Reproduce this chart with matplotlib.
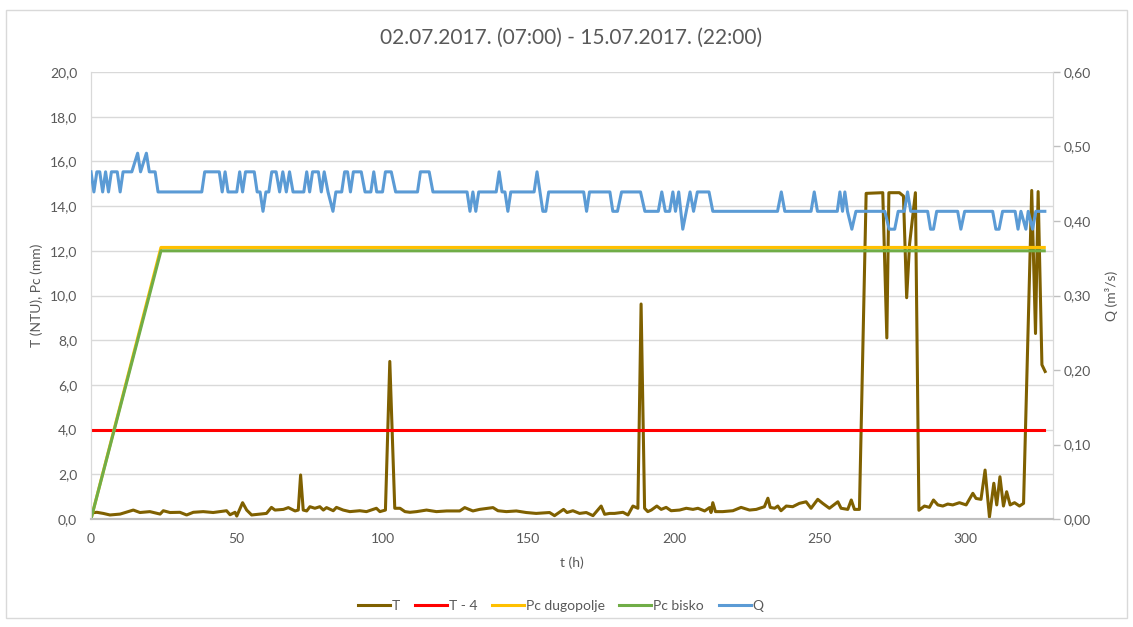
import matplotlib
matplotlib.use("Agg")
import matplotlib.pyplot as plt
from matplotlib.ticker import FuncFormatter, MultipleLocator
from matplotlib.patches import Rectangle

plt.rcParams['font.family'] = ['Lato', 'DejaVu Sans']

title = "02.07.2017. (07:00) - 15.07.2017. (22:00)"

# turbidity T (NTU), hours from start
t_hours = [0, 2, 4.2, 6.5, 10, 14.5, 16.8, 20.2, 23.7, 24.8, 27.1, 30.5, 32.8, 35.1, 38.5,
           41.9, 46.5, 47.7, 49.4, 50, 52, 53.4, 55.1, 57.9, 60.2, 61.9, 63.1, 66, 67.7,
           70, 71.1, 71.9, 72.8, 74, 75.1, 76.8, 78.5, 79.7, 80.8, 83.1, 84.2, 86.5, 88.8,
           92.2, 94.5, 97.9, 99.1, 101, 102.5, 104.2, 106, 107.7, 109.4, 111.7, 115.1,
           118.5, 122, 126.5, 128.2, 131, 133.3, 137.9, 139.6, 142.5, 145.9, 149.3, 152.7,
           157.3, 159, 162.1, 163.3, 165.3, 167.6, 169.9, 172.2, 175, 176.2, 177.9, 179.6,
           182.5, 184.2, 185.9, 187.6, 188.7, 189.9, 191, 192.2, 194.1, 195.6, 197.3, 199,
           201.9, 204.2, 206.5, 208.2, 210.5, 212.2, 212.7, 213.3, 214.2, 216.7, 220.2,
           223, 225.9, 228.2, 231, 232.2, 233, 234.5, 235.6, 236.7, 238.5, 240.7, 243,
           245.3, 247, 249.3, 251, 253.3, 256.2, 257.3, 259.6, 260.8, 261.9, 263.6, 265.9,
           271.6, 273, 273.7, 277.3, 278.7, 279.8, 280.8, 282.8, 284, 285.9, 287.6, 289,
           290.5, 292.2, 293.9, 295.6, 297.9, 300.2, 302.5, 303.6, 305.3, 306.7, 308.2,
           309.7, 310.7, 311.8, 313, 314.1, 315.3, 316.8, 318.5, 319.9, 322.7, 324, 324.9,
           326.2, 327.3]
t_ntu = [0.27, 0.30, 0.25, 0.18, 0.22, 0.40, 0.29, 0.33, 0.22, 0.37, 0.29, 0.30, 0.18, 0.30,
         0.33, 0.29, 0.37, 0.19, 0.30, 0.13, 0.73, 0.40, 0.18, 0.22, 0.25, 0.52, 0.40, 0.43,
         0.51, 0.36, 0.40, 1.97, 0.40, 0.36, 0.55, 0.48, 0.55, 0.40, 0.51, 0.37, 0.52, 0.40,
         0.33, 0.37, 0.33, 0.48, 0.33, 0.40, 7.05, 0.48, 0.48, 0.33, 0.30, 0.33, 0.40, 0.33,
         0.36, 0.36, 0.51, 0.36, 0.43, 0.51, 0.37, 0.33, 0.36, 0.29, 0.25, 0.29, 0.15, 0.43,
         0.29, 0.37, 0.25, 0.29, 0.15, 0.58, 0.21, 0.25, 0.25, 0.30, 0.18, 0.58, 0.48, 9.62,
         0.48, 0.33, 0.40, 0.58, 0.43, 0.52, 0.37, 0.40, 0.48, 0.43, 0.48, 0.36, 0.51, 0.29,
         0.73, 0.33, 0.33, 0.37, 0.52, 0.40, 0.43, 0.55, 0.93, 0.52, 0.48, 0.58, 0.37, 0.58,
         0.55, 0.70, 0.77, 0.48, 0.88, 0.70, 0.48, 0.77, 0.48, 0.43, 0.85, 0.43, 0.43, 14.57,
         14.60, 8.10, 14.60, 14.60, 14.45, 9.90, 12.30, 14.60, 0.39, 0.58, 0.52, 0.85, 0.63,
         0.58, 0.67, 0.63, 0.73, 0.63, 1.15, 0.92, 0.88, 2.19, 0.09, 1.60, 0.63, 1.89, 0.58,
         1.22, 0.63, 0.73, 0.58, 0.70, 14.70, 8.30, 14.65, 6.90, 6.60]

# turbidity limit T - 4
limit_hours = [0, 327]
limit_ntu = [4.0, 4.0]

# cumulative precipitation at the two stations (mm)
pc_hours = [0, 24, 327]
pc_dugopolje = [0.0, 12.15, 12.15]
pc_bisko = [0.0, 12.0, 12.0]

# discharge Q (m3/s)
q_hours = [0, 1, 2, 3, 4, 5, 6, 7, 9, 10, 11, 14, 16, 17, 19, 20, 22, 23, 38, 39, 44, 45,
           46, 47, 50, 51, 52, 53, 56, 57, 58, 59, 60, 61, 62, 63.5, 64.7, 65.8, 67, 68.1,
           69.3, 73, 74, 75, 76, 78, 79, 80, 81.3, 83, 84, 86, 87, 88, 89, 90, 92.7, 94, 96,
           97, 98, 100, 101, 103, 104.5, 112, 113, 116, 117.3, 129, 130, 131, 132, 133,
           139, 140, 141, 142, 143, 144, 152, 153, 154, 155, 156, 157, 169, 170, 171, 178,
           179, 180.6, 182, 188.5, 190, 194.6, 195.8, 197, 198.5, 199.6, 200.5, 201.6, 203,
           204.2, 205.5, 206.7, 208, 212, 213.3, 235.5, 236.8, 238, 247, 248.1, 249.2, 256,
           256.9, 257.8, 258.6, 259.5, 261, 262.4, 272.3, 273.8, 275.7, 276.9, 279, 280.1,
           281.2, 287, 288, 289, 290.1, 297.3, 298.4, 299.7, 309.3, 310.4, 311.5, 312.7,
           317, 318, 319, 320.7, 321.5, 323, 324.1, 327.2]
q_m3s = [0.466, 0.439, 0.466, 0.466, 0.439, 0.466, 0.439, 0.466, 0.466, 0.439, 0.466, 0.466,
         0.491, 0.466, 0.491, 0.466, 0.466, 0.439, 0.439, 0.466, 0.466, 0.439, 0.466, 0.439,
         0.439, 0.466, 0.439, 0.466, 0.466, 0.439, 0.439, 0.413, 0.439, 0.439, 0.466, 0.466,
         0.439, 0.466, 0.439, 0.466, 0.439, 0.439, 0.466, 0.439, 0.466, 0.466, 0.439, 0.466,
         0.439, 0.413, 0.439, 0.439, 0.466, 0.466, 0.439, 0.466, 0.466, 0.439, 0.439, 0.466,
         0.439, 0.439, 0.466, 0.466, 0.439, 0.439, 0.466, 0.466, 0.439, 0.439, 0.413, 0.439,
         0.413, 0.439, 0.439, 0.466, 0.439, 0.439, 0.413, 0.439, 0.439, 0.466, 0.439, 0.413,
         0.413, 0.439, 0.439, 0.413, 0.439, 0.439, 0.413, 0.413, 0.439, 0.439, 0.413, 0.413,
         0.439, 0.413, 0.413, 0.439, 0.413, 0.439, 0.389, 0.413, 0.439, 0.413, 0.439, 0.439,
         0.413, 0.413, 0.439, 0.413, 0.413, 0.439, 0.413, 0.413, 0.439, 0.413, 0.439, 0.413,
         0.389, 0.413, 0.413, 0.389, 0.389, 0.413, 0.413, 0.439, 0.413, 0.413, 0.389, 0.389,
         0.413, 0.413, 0.389, 0.413, 0.413, 0.389, 0.389, 0.413, 0.413, 0.389, 0.413, 0.389,
         0.413, 0.389, 0.413, 0.413]

text_col = '#595959'
grid_col = '#d9d9d9'

fig = plt.figure(figsize=(11.33, 6.27), dpi=100)
ax1 = fig.add_axes([91 / 1133, 1 - 519 / 627, (1053 - 91) / 1133, (519 - 72) / 627])
ax2 = ax1.twinx()

# chart area border
fig.patches.append(Rectangle((6 / 1133, 1 - 618 / 627), 1121 / 1133, 608 / 627,
                             transform=fig.transFigure, fill=False,
                             edgecolor=grid_col, lw=1.0))

lw = 2.2
l1, = ax1.plot(t_hours, t_ntu, color='#7f6000', lw=lw, label='T', zorder=3)
l2, = ax1.plot(limit_hours, limit_ntu, color='#ff0000', lw=lw, label='T - 4', zorder=3)
l3, = ax1.plot(pc_hours, pc_dugopolje, color='#ffc000', lw=lw, label='Pc dugopolje', zorder=3)
l4, = ax1.plot(pc_hours, pc_bisko, color='#70ad47', lw=lw, label='Pc bisko', zorder=3)
l5, = ax2.plot(q_hours, q_m3s, color='#5b9bd5', lw=lw, label='Q', zorder=3)

ax1.set_xlim(0, 330)
ax1.set_ylim(0, 20)
ax2.set_ylim(0, 0.6)
ax1.xaxis.set_major_locator(MultipleLocator(50))
ax1.yaxis.set_major_locator(MultipleLocator(2))
ax2.yaxis.set_major_locator(MultipleLocator(0.1))

ax1.yaxis.set_major_formatter(FuncFormatter(lambda v, p: f"{v:.1f}".replace('.', ',')))
ax2.yaxis.set_major_formatter(FuncFormatter(lambda v, p: f"{v:.2f}".replace('.', ',')))
ax1.xaxis.set_major_formatter(FuncFormatter(lambda v, p: f"{v:.0f}"))

ax1.grid(axis='y', color=grid_col, lw=1.0)
ax1.set_axisbelow(True)

for ax in (ax1, ax2):
    ax.spines['top'].set_visible(False)
    ax.spines['left'].set_color(grid_col)
    ax.spines['right'].set_color(grid_col)
    ax.spines['bottom'].set_color('#bfbfbf')
    ax.spines['bottom'].set_linewidth(1.5)

ax1.tick_params(axis='x', length=0, pad=10, labelsize=10, colors=text_col)
ax1.tick_params(axis='y', length=0, pad=10, labelsize=10, colors=text_col)
ax2.tick_params(axis='y', length=5, width=1, color='#bfbfbf', pad=3, labelsize=10,
                labelcolor=text_col)

ax1.set_xlabel('t (h)', fontsize=10, color=text_col, labelpad=8)
ax1.set_ylabel('T (NTU), Pc (mm)', fontsize=10, color=text_col, labelpad=5)
ax2.set_ylabel('Q (m³/s)', fontsize=10, color=text_col, labelpad=10)

fig.text(0.504, 1 - 38 / 627, title, ha='center', va='center', fontsize=15, color=text_col)

fig.legend(handles=[l1, l2, l3, l4, l5], loc='center', bbox_to_anchor=(0.495, 1 - 606 / 627),
           ncol=5, frameon=False, fontsize=10, labelcolor=text_col, handlelength=2.3,
           handletextpad=0.15, columnspacing=1.05)

fig.savefig('out.png', dpi=100)
